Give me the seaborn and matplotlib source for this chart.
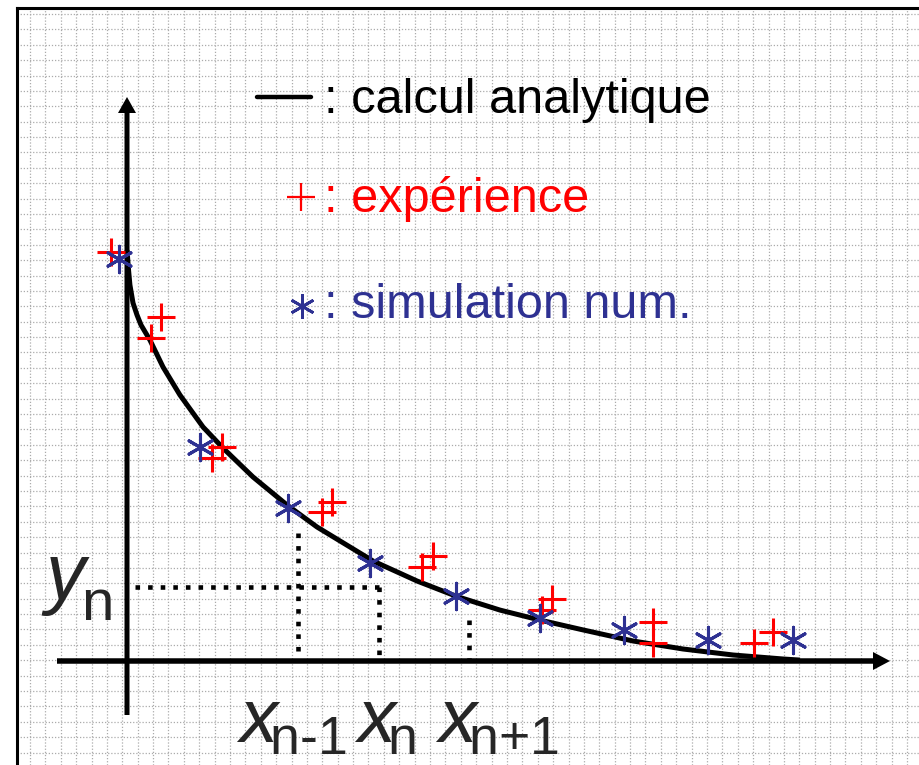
import matplotlib
matplotlib.use("Agg")
import numpy as np
import pandas as pd
import matplotlib.pyplot as plt
import seaborn as sns
from matplotlib.patches import FancyArrow
from matplotlib.lines import Line2D

# ---- data (grid units: one unit = one grid cell, origin at the axes crossing) ----
# analytic solution
curve_x = [0.00, 0.10, 0.19, 0.39, 0.65, 0.91, 1.49, 2.34, 3.44, 4.94, 6.24, 8.19,
           10.40, 12.35, 15.99, 18.85, 21.45, 24.24, 26.84, 29.64, 32.89, 36.14,
           39.39, 42.64, 43.74]
curve_y = [26.71, 25.41, 24.44, 23.27, 22.49, 21.84, 20.86, 19.11, 17.29, 15.21,
           13.84, 11.96, 10.14, 8.71, 6.50, 5.20, 4.19, 3.31, 2.66, 2.02, 1.30,
           0.78, 0.39, 0.13, 0.06]

# experiment (+)
exp_x = [-1.04, 2.21, 1.56, 5.54, 6.15, 12.67, 13.32, 19.17, 19.89, 26.97, 27.62,
         34.19, 34.19, 40.75, 41.99]
exp_y = [26.58, 22.36, 20.99, 13.17, 13.93, 9.68, 10.33, 6.11, 6.82, 3.31, 4.03,
         2.53, 1.17, 1.17, 1.88]

# numerical simulation (*)
sim_x = [-0.52, 4.74, 10.46, 15.79, 21.38, 26.84, 32.30, 37.76, 43.29]
sim_y = [26.13, 13.93, 9.94, 6.37, 4.22, 2.79, 2.01, 1.36, 1.36]

# projection guides for x_{n-1}, x_n, x_{n+1} and y_n
proj_x = [11.11, 16.35, 22.23]
proj_top = [8.32, 4.84, 2.66]
y_n = 4.84

legend_labels = [": calcul analytique", ": expérience", ": simulation num."]
x_labels = [r"$x_{\!\text{n-1}}$", r"$x_{\!\text{n}}$", r"$x_{\!\text{n+1}}$"]

RED = "#FF0000"
BLUE = "#2E3192"

sns.set_theme(style="white")
plt.rcParams["font.family"] = ["Liberation Sans", "DejaVu Sans"]
plt.rcParams["mathtext.fontset"] = "custom"
plt.rcParams["mathtext.rm"] = "Liberation Sans"
plt.rcParams["mathtext.it"] = "Liberation Sans:italic"

W, H, DPI = 920, 765, 100
S = 15.386          # pixels per grid unit
X0, Y0 = 127, 661   # pixel position of the origin

fig = plt.figure(figsize=(W / DPI, H / DPI), dpi=DPI)
left_px, top_px = 16.5, 7.5
ax = fig.add_axes([left_px / W, 0, (W - left_px) / W, (H - top_px) / H])


def P(xp, yp):
    """pixel position -> grid units"""
    return (xp - X0) / S, (Y0 - yp) / S


ax.set_xlim(P(left_px, 0)[0], P(W, 0)[0])
ax.set_ylim(P(0, H)[1], P(0, top_px)[1])
ax.set_aspect("auto")

# dotted background grid
gx0 = P(30, 0)[0]
gy0 = P(0, 14)[1]
ax.set_xticks(np.arange(gx0, ax.get_xlim()[1], 1.0))
ax.set_yticks(np.arange(gy0, ax.get_ylim()[0], -1.0))
ax.tick_params(length=0, labelbottom=False, labelleft=False)
ax.grid(True, color="#ababab", lw=0.9, linestyle=(0, (1, 1.5)))
ax.set_axisbelow(True)

for side in ["right", "bottom"]:
    ax.spines[side].set_visible(False)
for side in ["left", "top"]:
    ax.spines[side].set_color("black")
    ax.spines[side].set_linewidth(2.2)

# axes with arrow heads
x_start, _ = P(57, 0)
x_tip, _ = P(890, 0)
_, y_start = P(0, 715)
_, y_tip = P(0, 97)
ax.add_patch(FancyArrow(0, y_start, 0, y_tip - y_start, width=5 / S, head_width=18 / S,
                        head_length=16 / S, length_includes_head=True, color="black", lw=0, zorder=3))
ax.add_patch(FancyArrow(x_start, 0, x_tip - x_start, 0, width=5.5 / S, head_width=18 / S,
                        head_length=17 / S, length_includes_head=True, color="black", lw=0, zorder=3))

# projection guides
dot = dict(color="black", lw=3.3, linestyle=(0, (1, 1.75)), dash_capstyle="butt", zorder=2)
for px_, top in zip(proj_x, proj_top):
    ax.plot([px_, px_], [top, 0], **dot)
ax.plot([P(135, 0)[0], proj_x[1]], [y_n, y_n], **dot)

# analytic curve
curve = pd.DataFrame({"x": curve_x, "y": curve_y})
sns.lineplot(data=curve, x="x", y="y", sort=False, estimator=None, color="black",
             lw=3.6, ax=ax, zorder=4, solid_joinstyle="round", solid_capstyle="butt")

# measured and simulated points
sns.scatterplot(x=exp_x, y=exp_y, marker="+", s=20 ** 2, color=RED, linewidth=2.2,
                ax=ax, zorder=5)
sns.scatterplot(x=sim_x, y=sim_y, marker=(6, 2, 0), s=19 ** 2, color=BLUE,
                linewidth=2.2, ax=ax, zorder=5)

# legend block
fs_leg = 35
ax.add_line(Line2D([P(257, 0)[0], P(311, 0)[0]], [P(0, 97)[1]] * 2, color="black", lw=3.2))
ax.plot(*P(301, 197), marker="+", ms=20, mew=1.6, color=RED)
ax.plot(*P(302.5, 306), marker=(6, 2, 0), ms=18, mew=2.0, color=BLUE)
for lab, base, col in zip(legend_labels, [113, 212, 318], ["black", RED, BLUE]):
    ax.text(*P(324, base), lab, fontsize=fs_leg, color=col, ha="left", va="baseline")

# axis labels
ax.text(*P(45, 599), "y", fontsize=57, style="italic", ha="left", va="baseline")
ax.text(*P(81, 620), "n", fontsize=42, ha="left", va="baseline")
for lab, xi in zip(x_labels, [236, 354, 435]):
    ax.text(*P(xi, 742), lab, fontsize=55, ha="left", va="baseline")

ax.set_xlabel("")
ax.set_ylabel("")
fig.savefig("out.png", dpi=DPI)
